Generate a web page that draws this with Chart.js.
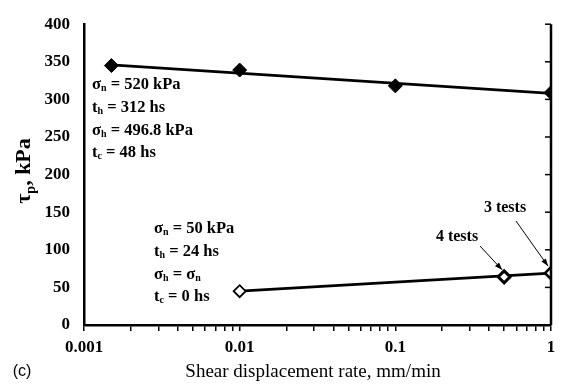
<!DOCTYPE html>
<html>
<head>
<meta charset="utf-8">
<script src="https://cdn.jsdelivr.net/npm/chart.js@4/dist/chart.umd.min.js"></script>
<style>
  html, body { margin: 0; padding: 0; background: #fff; }
  #wrap { width: 563px; height: 390px; }
</style>
</head>
<body>
<div id="wrap"><canvas id="peakChart" width="563" height="390"></canvas></div>
<script>
// --- data ---
const upperRate = [0.0015, 0.01, 0.1, 1];
const upperTau = [345, 339, 318, 309];
const upperFitRate = [0.0015, 1];
const upperFitTau = [346, 308];

const lowerRate = [0.01, 0.5, 1];
const lowerTau = [45, 64, 69];
const lowerFitRate = [0.01, 1];
const lowerFitTau = [45, 69];

const xDecades = [0.001, 0.01, 0.1, 1];
const xTickLabels = ['0.001', '0.01', '0.1', '1'];
const xMinorSteps = [2, 3, 4, 5, 6, 7, 8, 9];
const yTickValues = [0, 50, 100, 150, 200, 250, 300, 350, 400];

const SERIF = '"Liberation Serif", "Times New Roman", serif';

function pts(xs, ys) { return xs.map((x, i) => ({ x: x, y: ys[i] })); }

// text with subscripts: parts = [[text, isSub], ...]
function drawRich(ctx, x, y, parts, size) {
    let cx = x;
    parts.forEach(p => {
        if (p[1]) {
            ctx.font = 'bold ' + Math.round(size * 0.62) + 'px ' + SERIF;
            ctx.fillText(p[0], cx, y + size * 0.2);
        } else {
            ctx.font = 'bold ' + size + 'px ' + SERIF;
            ctx.fillText(p[0], cx, y);
        }
        cx += ctx.measureText(p[0]).width;
    });
}

function arrow(ctx, x1, y1, x2, y2) {
    const a = Math.atan2(y2 - y1, x2 - x1);
    ctx.beginPath();
    ctx.moveTo(x1, y1);
    ctx.lineTo(x2, y2);
    ctx.stroke();
    ctx.beginPath();
    ctx.moveTo(x2, y2);
    ctx.lineTo(x2 - 8 * Math.cos(a - 0.35), y2 - 8 * Math.sin(a - 0.35));
    ctx.lineTo(x2 - 8 * Math.cos(a + 0.35), y2 - 8 * Math.sin(a + 0.35));
    ctx.closePath();
    ctx.fill();
}

const decorPlugin = {
    id: 'decor',
    afterDraw(chart) {
        const ctx = chart.ctx;
        const area = chart.chartArea;
        const xs = chart.scales.x, ys = chart.scales.y;
        ctx.save();
        ctx.fillStyle = '#000';
        ctx.strokeStyle = '#000';

        // right frame line with inward ticks
        ctx.lineWidth = 2.5;
        ctx.beginPath();
        ctx.moveTo(area.right, area.top);
        ctx.lineTo(area.right, area.bottom);
        ctx.stroke();
        ctx.lineWidth = 1.5;
        yTickValues.forEach(v => {
            const py = ys.getPixelForValue(v);
            ctx.beginPath();
            ctx.moveTo(area.right, py);
            ctx.lineTo(area.right - 6, py);
            ctx.stroke();
        });

        // annotation blocks
        ctx.textBaseline = 'middle';
        ctx.textAlign = 'left';
        const ux = 92, lx = 154, fs = 16.5;
        drawRich(ctx, ux, 85, [['σ'], ['n', 1], [' = 520 kPa']], fs);
        drawRich(ctx, ux, 108, [['t'], ['h', 1], [' = 312 hs']], fs);
        drawRich(ctx, ux, 131, [['σ'], ['h', 1], [' = 496.8 kPa']], fs);
        drawRich(ctx, ux, 153, [['t'], ['c', 1], [' = 48 hs']], fs);

        drawRich(ctx, lx, 229, [['σ'], ['n', 1], [' = 50 kPa']], fs);
        drawRich(ctx, lx, 252, [['t'], ['h', 1], [' = 24 hs']], fs);
        drawRich(ctx, lx, 275, [['σ'], ['h', 1], [' = σ'], ['n', 1]], fs);
        drawRich(ctx, lx, 297, [['t'], ['c', 1], [' = 0 hs']], fs);

        // "tests" labels with arrows to the points
        ctx.font = 'bold 16px ' + SERIF;
        ctx.textAlign = 'center';
        ctx.fillText('4 tests', 457, 237);
        ctx.fillText('3 tests', 505, 208);
        ctx.lineWidth = 1;
        const p4x = xs.getPixelForValue(lowerRate[1]), p4y = ys.getPixelForValue(lowerTau[1]);
        const p3x = xs.getPixelForValue(lowerRate[2]), p3y = ys.getPixelForValue(lowerTau[2]);
        arrow(ctx, 480, 246, p4x - 2, p4y - 7);
        arrow(ctx, 516, 221, p3x - 3, p3y - 7);

        // axis titles
        ctx.textAlign = 'center';
        ctx.font = '19px ' + SERIF;
        ctx.fillText('Shear displacement rate, mm/min', 313, 372);
        ctx.font = '16px "Liberation Sans", Arial, sans-serif';
        ctx.fillText('(c)', 22, 372);

        ctx.save();
        ctx.translate(30, 171);
        ctx.rotate(-Math.PI / 2);
        ctx.textBaseline = 'alphabetic';
        ctx.textAlign = 'left';
        ctx.font = 'bold 22px ' + SERIF;
        const w1 = ctx.measureText('τ').width;
        ctx.font = 'bold 14px ' + SERIF;
        const w2 = ctx.measureText('p').width;
        ctx.font = 'bold 22px ' + SERIF;
        const w3 = ctx.measureText(', kPa').width;
        let sx = -(w1 + w2 + w3) / 2;
        ctx.fillText('τ', sx, 0);
        sx += w1;
        ctx.font = 'bold 14px ' + SERIF;
        ctx.fillText('p', sx, 5);
        sx += w2;
        ctx.font = 'bold 22px ' + SERIF;
        ctx.fillText(', kPa', sx, 0);
        ctx.restore();

        ctx.restore();
    }
};

new Chart(document.getElementById('peakChart'), {
    type: 'scatter',
    data: {
        datasets: [
            {
                data: pts(upperRate, upperTau),
                pointStyle: 'rectRot', pointRadius: 7, pointHoverRadius: 7,
                backgroundColor: '#000', borderColor: '#000', borderWidth: 1
            },
            {
                data: pts(lowerRate, lowerTau),
                pointStyle: 'rectRot', pointRadius: 6, pointHoverRadius: 6,
                backgroundColor: '#fff', borderColor: '#000', borderWidth: [1.8, 3, 2.6]
            },
            {
                data: pts(upperFitRate, upperFitTau),
                showLine: true, pointRadius: 0, borderColor: '#000', borderWidth: 2.8
            },
            {
                data: pts(lowerFitRate, lowerFitTau),
                showLine: true, pointRadius: 0, borderColor: '#000', borderWidth: 2.8
            }
        ]
    },
    options: {
        responsive: false,
        animation: false,
        events: [],
        layout: { padding: { left: 0, right: 12, top: 18, bottom: 0 } },
        plugins: { legend: { display: false }, tooltip: { enabled: false } },
        scales: {
            x: {
                type: 'logarithmic',
                min: 0.001, max: 1,
                afterFit(scale) { scale.height = 65; },
                afterBuildTicks(scale) {
                    const t = [];
                    xDecades.forEach((d, i) => {
                        t.push({ value: d });
                        if (i < xDecades.length - 1) xMinorSteps.forEach(m => t.push({ value: d * m }));
                    });
                    scale.ticks = t;
                },
                grid: { drawOnChartArea: false, drawTicks: true, tickLength: 6, color: '#000', lineWidth: 1.5 },
                border: { display: true, color: '#000', width: 2.5 },
                ticks: {
                    autoSkip: false, maxRotation: 0, padding: 6, color: '#000',
                    font: { family: SERIF, size: 17, weight: 'bold' },
                    callback(v) {
                        const i = xDecades.findIndex(d => Math.abs(d - v) < d * 1e-6);
                        return i >= 0 ? xTickLabels[i] : '';
                    }
                }
            },
            y: {
                min: 0, max: 400,
                afterFit(scale) { scale.width = 84; },
                afterBuildTicks(scale) { scale.ticks = yTickValues.map(v => ({ value: v })); },
                grid: { display: false, drawTicks: false },
                border: { display: true, color: '#000', width: 2.5 },
                ticks: {
                    padding: 14, color: '#000',
                    font: { family: SERIF, size: 17, weight: 'bold' }
                }
            }
        }
    },
    plugins: [decorPlugin]
});
</script>
</body>
</html>
